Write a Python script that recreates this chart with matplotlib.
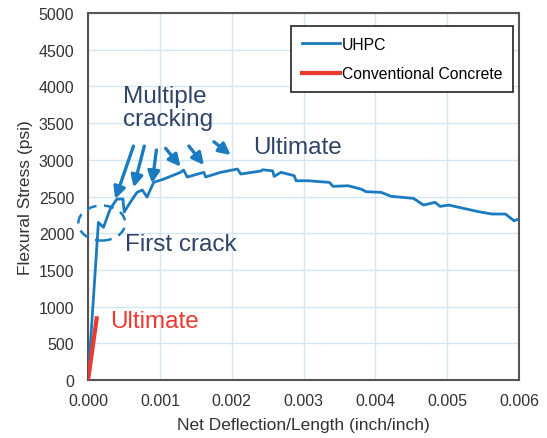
import matplotlib
matplotlib.use("Agg")
import matplotlib.pyplot as plt
from matplotlib.patches import Ellipse

plt.rcParams['font.family'] = ['Liberation Sans', 'DejaVu Sans']

# UHPC load curve
uhpc_x = [0.0, 0.000144, 0.000214, 0.000308, 0.000401, 0.000485, 0.000503,
          0.000587, 0.000681, 0.000755, 0.000821, 0.000913, 0.001053, 0.001287,
          0.00133, 0.00138, 0.001613, 0.001636, 0.001846, 0.00208, 0.002126,
          0.002406, 0.00243, 0.00257, 0.00259, 0.002685, 0.00287, 0.002895,
          0.00306, 0.00336, 0.00341, 0.00362, 0.0038, 0.00387, 0.00408, 0.00422,
          0.00453, 0.00467, 0.00483, 0.0049, 0.00502, 0.00544, 0.00562, 0.00581,
          0.00593, 0.006]
uhpc_y = [0, 2148, 2080, 2330, 2466, 2466, 2289,
          2421, 2557, 2589, 2493, 2693, 2738, 2830,
          2861, 2766, 2830, 2766, 2830, 2875, 2807,
          2848, 2865, 2850, 2775, 2830, 2784, 2715,
          2715, 2693, 2639, 2647, 2602, 2566, 2557, 2503,
          2475, 2384, 2421, 2366, 2384, 2293, 2262, 2262,
          2170, 2195]

# conventional concrete
cc_x = [0.0, 0.00012]
cc_y = [0, 840]

# "Multiple cracking" arrows: (tail x, tail y, head x, head y)
arrow_tail_x = [0.000632, 0.000783, 0.000951, 0.00108, 0.001403, 0.001752]
arrow_tail_y = [3188, 3188, 3134, 3157, 3188, 3246]
arrow_head_x = [0.000378, 0.000634, 0.000891, 0.001287, 0.001613, 0.001986]
arrow_head_y = [2466, 2625, 2679, 2906, 2929, 3065]

blue = '#1b7bc0'
red = '#e83a2e'
navy = '#2f4468'

fig = plt.figure(figsize=(5.47, 4.39), dpi=100)
ax = fig.add_axes([0.161, 0.132, 0.788, 0.836])

ax.plot(uhpc_x, uhpc_y, color=blue, lw=2, label='UHPC', zorder=3)
ax.plot(cc_x, cc_y, color=red, lw=3, label='Conventional Concrete', zorder=4)

ax.set_xlim(0, 0.006)
ax.set_ylim(0, 5000)
ax.set_xticks([0, 0.001, 0.002, 0.003, 0.004, 0.005, 0.006])
ax.set_xticklabels(['0.000', '0.001', '0.002', '0.003', '0.004', '0.005', '0.006'])
ax.set_yticks(range(0, 5001, 500))
ax.tick_params(length=0, labelsize=11.5, labelcolor='#333333')
ax.tick_params(axis='y', pad=10)
ax.tick_params(axis='x', pad=9)
ax.grid(True, color='#d3e6f2', lw=1)
ax.set_axisbelow(True)
for s in ax.spines.values():
    s.set_color('#555555')
    s.set_linewidth(1.5)

ax.set_xlabel('Net Deflection/Length (inch/inch)', fontsize=12.5, color='#333333',
              labelpad=7)
ax.set_ylabel('Flexural Stress (psi)', fontsize=12.5, color='#333333', labelpad=4)

leg = ax.legend(loc='upper right', fontsize=11.3, fancybox=False, framealpha=1,
                edgecolor='#222222', handlelength=2.4, handletextpad=0.1,
                labelspacing=0.9, borderpad=0.7, borderaxespad=0,
                bbox_to_anchor=(0.986, 0.965))
leg.get_frame().set_linewidth(1.2)

# annotations
ell = Ellipse((0.000191, 2139), 0.000653, 477, fill=False, ls=(0, (4, 3)),
              lw=1.8, edgecolor=blue, clip_on=False, zorder=5)
ax.add_patch(ell)

for tx, ty, hx, hy in zip(arrow_tail_x, arrow_tail_y, arrow_head_x, arrow_head_y):
    ax.annotate('', xy=(hx, hy), xytext=(tx, ty),
                arrowprops=dict(arrowstyle='-|>,head_length=0.7,head_width=0.35',
                                color=blue, lw=2.4, shrinkA=0, shrinkB=0))

ax.text(0.00048, 3710, 'Multiple\ncracking', fontsize=17.5, color=navy,
        ha='left', va='center', linespacing=1.05)
ax.text(0.00291, 3174, 'Ultimate', fontsize=17.5, color=navy, ha='center', va='center')
ax.text(0.000517, 1853, 'First crack', fontsize=17.5, color=navy, ha='left', va='center')
ax.text(0.000308, 804, 'Ultimate', fontsize=17.5, color=red, ha='left', va='center')

fig.savefig('out.png', dpi=100)
